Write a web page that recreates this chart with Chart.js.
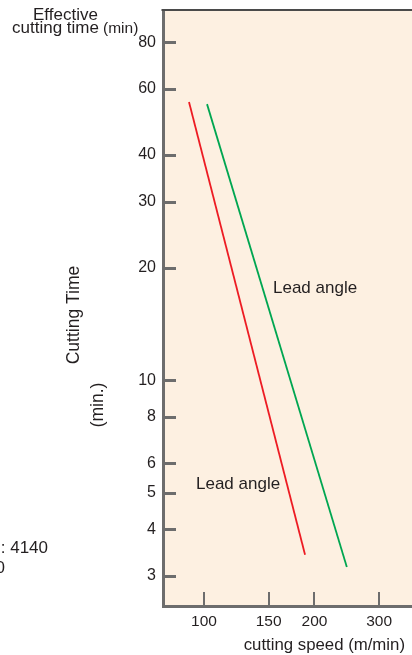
<!DOCTYPE html>
<html>
<head>
<meta charset="utf-8">
<script src="https://cdn.jsdelivr.net/npm/chart.js@4"></script>
<style>
html,body{margin:0;padding:0;background:#ffffff;}
#wrap{position:relative;width:412px;height:655px;overflow:hidden;}
</style>
</head>
<body>
<div id="wrap"><canvas id="toolLifeChart" width="412" height="655"></canvas></div>
<script>
/* =====================================================
   TOOL LIFE CHART (log / log)
===================================================== */

const speedTicks = [100, 150, 200, 300];

const timeTicks = [3, 4, 5, 6, 8, 10, 20, 30, 40, 60, 80];

// two lead angles, end points of each straight line
const redSpeed = [91, 188.5];
const redTime = [55.4, 3.42];

const greenSpeed = [101.9, 245];
const greenTime = [54.7, 3.17];

const toPoints = (xs, ys) =>
    xs.map((x, i) => ({ x, y: ys[i] }));


const FONT = "'Liberation Sans', Arial, sans-serif";
const INK = "#231f20";
const AXIS = "#6d6d6d";


/* =========================
   FRAME + TEXT PLUGIN
========================= */

const framePlugin = {

    id: "frame",

    beforeDraw(chart){

        const { ctx, chartArea: a } = chart;

        ctx.save();
        ctx.fillStyle = "#fdf0e1";
        ctx.fillRect(a.left, a.top, a.right - a.left, a.bottom - a.top);
        ctx.restore();

    },

    afterDraw(chart){

        const { ctx, chartArea: a } = chart;
        const xs = chart.scales.x;
        const ys = chart.scales.y;

        ctx.save();

        // top edge
        ctx.strokeStyle = "#4a4a4a";
        ctx.lineWidth = 2;
        ctx.beginPath();
        ctx.moveTo(a.left - 1.5, a.top - 1);
        ctx.lineTo(a.right, a.top - 1);
        ctx.stroke();

        // inward ticks
        ctx.strokeStyle = AXIS;

        ctx.lineWidth = 3;
        timeTicks.forEach(v => {
            const y = Math.round(ys.getPixelForValue(v)) + 0.5;
            ctx.beginPath();
            ctx.moveTo(a.left, y);
            ctx.lineTo(a.left + 13, y);
            ctx.stroke();
        });

        ctx.lineWidth = 2;
        speedTicks.forEach(v => {
            const x = Math.round(xs.getPixelForValue(v));
            ctx.beginPath();
            ctx.moveTo(x, a.bottom);
            ctx.lineTo(x, a.bottom - 14);
            ctx.stroke();
        });

        // texts
        ctx.fillStyle = INK;
        ctx.textBaseline = "alphabetic";
        ctx.textAlign = "left";

        ctx.font = "17px " + FONT;
        ctx.fillText("Effective", 33, 20);
        ctx.fillText("cutting time", 12, 33);
        ctx.font = "15.5px " + FONT;
        ctx.fillText("(min)", 103, 33);

        ctx.font = "17px " + FONT;
        ctx.fillText("Lead angle", 273, 293);
        ctx.fillText("Lead angle", 196, 489);

        ctx.textAlign = "right";
        ctx.font = "16.8px " + FONT;
        ctx.fillText("cutting speed (m/min)", 405, 650);

        ctx.font = "17px " + FONT;
        ctx.fillText(": 4140", 48, 553);
        ctx.fillText("0", 5, 573);

        // rotated y titles
        ctx.textAlign = "center";
        ctx.font = "17.5px " + FONT;

        ctx.save();
        ctx.translate(79, 315);
        ctx.rotate(-Math.PI / 2);
        ctx.fillText("Cutting Time", 0, 0);
        ctx.restore();

        ctx.save();
        ctx.translate(103, 405);
        ctx.rotate(-Math.PI / 2);
        ctx.fillText("(min.)", 0, 0);
        ctx.restore();

        ctx.restore();

    }

};


/* =========================
   CHART
========================= */

const canvas = document.getElementById("toolLifeChart");

new Chart(canvas, {

    type: "line",

    data: {

        datasets: [

            {
                data: toPoints(redSpeed, redTime),
                borderColor: "#ed1c24",
                borderWidth: 1.8,
                pointRadius: 0,
                fill: false
            },

            {
                data: toPoints(greenSpeed, greenTime),
                borderColor: "#00a651",
                borderWidth: 1.8,
                pointRadius: 0,
                fill: false
            }

        ]

    },

    options: {

        responsive: false,
        animation: false,
        events: [],

        layout: {
            padding: { top: 11, left: 0, right: 0, bottom: 0 }
        },

        plugins: {
            legend: { display: false },
            tooltip: { enabled: false }
        },

        scales: {

            x: {
                type: "logarithmic",
                min: 77.3,
                max: 368.8,
                afterBuildTicks: s => {
                    s.ticks = speedTicks.map(v => ({ value: v }));
                },
                afterFit: s => {
                    s.height = 49;
                    s.paddingLeft = 0;
                    s.paddingRight = 0;
                },
                grid: {
                    display: false,
                    drawTicks: false
                },
                border: {
                    display: true,
                    color: AXIS,
                    width: 3
                },
                ticks: {
                    autoSkip: false,
                    maxRotation: 0,
                    padding: 6,
                    color: INK,
                    font: { family: FONT, size: 15.5 },
                    callback: v => String(v)
                }
            },

            y: {
                type: "logarithmic",
                min: 2.495,
                max: 97,
                afterBuildTicks: s => {
                    s.ticks = timeTicks.map(v => ({ value: v }));
                },
                afterFit: s => {
                    s.width = 163;
                    s.paddingTop = 0;
                    s.paddingBottom = 0;
                },
                grid: {
                    display: false,
                    drawTicks: false
                },
                border: {
                    display: true,
                    color: AXIS,
                    width: 3
                },
                ticks: {
                    autoSkip: false,
                    padding: 7,
                    color: INK,
                    font: { family: FONT, size: 16 },
                    callback: v => String(v)
                }
            }

        }

    },

    plugins: [framePlugin]

});
</script>
</body>
</html>
